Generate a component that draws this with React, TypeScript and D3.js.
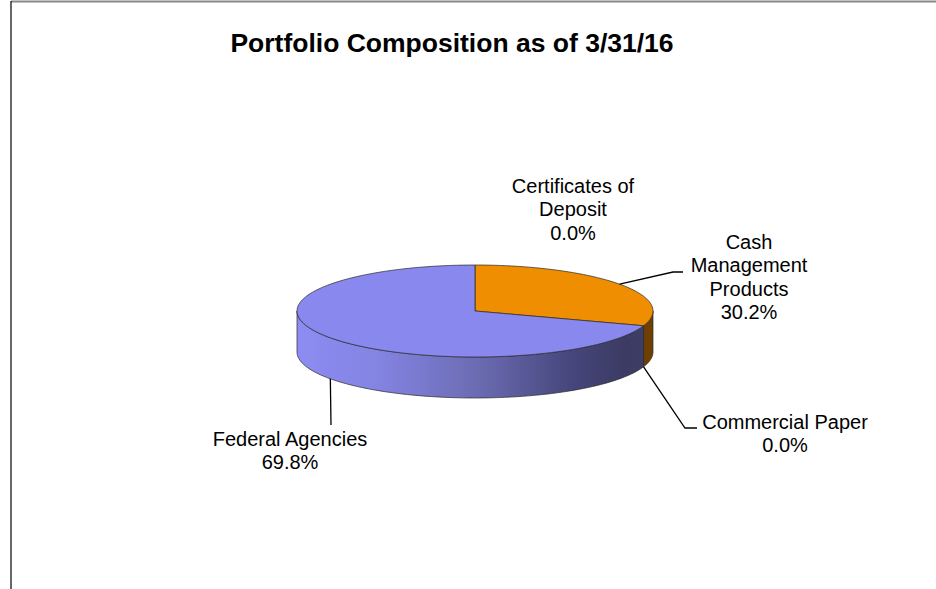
import React from 'react';
import * as d3 from 'd3';

const categories = ['Certificates of Deposit', 'Cash Management Products', 'Commercial Paper', 'Federal Agencies'];
const shares = [0.0, 30.2, 0.0, 69.8];
const sliceColors = ['#5f9ea0', '#ee8e00', '#9999ff', '#8888ee'];
const sideColors = ['#2f4f50', '#6e3f00', '#44447a', 'url(#fedSide)'];

// label lines as they are broken in the chart
const labelLines = [
  ['Certificates of', 'Deposit'],
  ['Cash', 'Management', 'Products'],
  ['Commercial Paper'],
  ['Federal Agencies'],
];

const W = 936;
const H = 589;
const cx = 475;
const cy = 311;
const rx = 178;
const ry = 46;
const depth = 41;

// where each label sits, and how the leader bends (layout only)
const labelLayout = [
  { x: 573, y: 193, leader: null as null | number[][], onTop: true, at: 'start' },
  { x: 749, y: 249, leader: [[673, 272], [683, 272]], onTop: true, at: 'mid' },
  { x: 785, y: 429, leader: [[685, 428], [697, 428]], onTop: false, at: 'start' },
  { x: 290, y: 446, leader: [[331, 425]], onTop: false, at: 'mid' },
];

const xs = d3.scaleLinear().domain([-1, 1]).range([cx - rx, cx + rx]);
const ys = d3.scaleLinear().domain([-1, 1]).range([cy - ry, cy + ry]);

const pt = (a: number, dy = 0): [number, number] => [xs(Math.sin(a)), ys(-Math.cos(a)) + dy];

const arcPts = (a0: number, a1: number, dy = 0) => {
  const n = Math.max(2, Math.ceil(((a1 - a0) / (Math.PI * 2)) * 180));
  return d3.range(n + 1).map((i) => pt(a0 + ((a1 - a0) * i) / n, dy));
};

const line = d3.line();

export default function App() {
  const pie = d3.pie<number>().sort(null).startAngle(0).endAngle(Math.PI * 2);
  const arcs = pie(shares);
  const fmt = d3.format('.1f');

  return (
    <svg width={W} height={H} style={{ position: 'absolute', left: 0, top: 0, background: '#fff' }}
      fontFamily="'Liberation Sans', Arial, sans-serif">
      <defs>
        <linearGradient id="fedSide" gradientUnits="userSpaceOnUse" x1={cx - rx} x2={cx + rx} y1={0} y2={0}>
          <stop offset="0%" stopColor="#8c8cf2" />
          <stop offset="22%" stopColor="#8484e4" />
          <stop offset="50%" stopColor="#6c6cb4" />
          <stop offset="78%" stopColor="#45457a" />
          <stop offset="92%" stopColor="#3b3b63" />
          <stop offset="100%" stopColor="#3e3e68" />
        </linearGradient>
      </defs>

      <line x1={11} x2={W} y1={1.5} y2={1.5} stroke="#888" strokeWidth={2} />
      <line x1={11} x2={11} y1={1} y2={H} stroke="#000" strokeWidth={1.2} />

      <text x={452} y={52} textAnchor="middle" fontSize={26.5} fontWeight="bold" fill="#000">
        Portfolio Composition as of 3/31/16
      </text>

      {/* outer walls, only the front half shows */}
      {arcs.map((d, i) => {
        const a0 = Math.max(d.startAngle, Math.PI / 2);
        const a1 = Math.min(d.endAngle, (Math.PI * 3) / 2);
        if (a1 <= a0) return null;
        const top = arcPts(a0, a1);
        const bot = arcPts(a0, a1, depth).reverse();
        return (
          <path key={'s' + i} d={line([...top, ...bot]) + 'Z'} fill={sideColors[i]}
            stroke="#2a2a2a" strokeWidth={0.7} strokeLinejoin="round" />
        );
      })}

      {/* top faces */}
      {arcs.map((d, i) => {
        if (d.endAngle - d.startAngle <= 0) return null;
        const pts = [[cx, cy] as [number, number], ...arcPts(d.startAngle, d.endAngle)];
        return (
          <path key={'t' + i} d={line(pts) + 'Z'} fill={sliceColors[i]}
            stroke="#2a2a2a" strokeWidth={0.7} strokeLinejoin="round" />
        );
      })}

      {/* leaders and labels */}
      {arcs.map((d, i) => {
        const lay = labelLayout[i];
        const a = lay.at === 'mid' ? (d.startAngle + d.endAngle) / 2 : d.startAngle;
        const anchor = pt(a, lay.onTop ? 0 : depth);
        const lines = [...labelLines[i], fmt(shares[i]) + '%'];
        return (
          <g key={'l' + i}>
            {lay.leader && (
              <path d={line([anchor, ...(lay.leader as [number, number][])]) as string}
                fill="none" stroke="#000" strokeWidth={1.3} />
            )}
            <text x={lay.x} y={lay.y} textAnchor="middle" fontSize={20} fill="#000">
              {lines.map((t, k) => (
                <tspan key={k} x={lay.x} dy={k === 0 ? 0 : 23.3}>{t}</tspan>
              ))}
            </text>
          </g>
        );
      })}
    </svg>
  );
}
